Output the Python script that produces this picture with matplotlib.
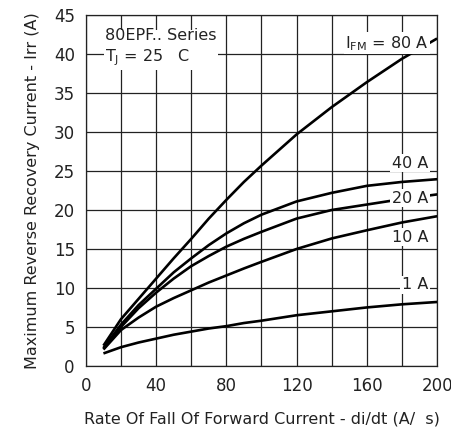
import matplotlib
matplotlib.use('Agg')
import matplotlib.pyplot as plt

# Dados das curvas
didt = [10, 20, 30, 40, 50, 60, 70, 80, 90, 100, 120, 140, 160, 180, 200]
irr_80a = [2.6, 6.0, 8.6, 11.2, 13.8, 16.3, 18.9, 21.3, 23.6, 25.7, 29.7, 33.2, 36.4, 39.4, 42.0]
irr_40a = [2.3, 5.3, 7.8, 9.9, 12.0, 13.8, 15.5, 17.0, 18.3, 19.4, 21.1, 22.2, 23.1, 23.6, 23.95]
irr_20a = [2.2, 5.0, 7.4, 9.4, 11.2, 12.8, 14.1, 15.3, 16.3, 17.2, 18.9, 20.0, 20.7, 21.4, 22.0]
irr_10a = [2.1, 4.6, 6.2, 7.6, 8.7, 9.7, 10.7, 11.6, 12.5, 13.35, 15.0, 16.35, 17.4, 18.4, 19.2]
irr_1a = [1.6, 2.4, 3.0, 3.5, 4.0, 4.4, 4.8, 5.1, 5.5, 5.8, 6.5, 7.0, 7.5, 7.9, 8.2]

curvas = [irr_80a, irr_40a, irr_20a, irr_10a, irr_1a]
rotulos = ['I$_{\\mathregular{FM}}$ = 80 A', '40 A', '20 A', '10 A', '1 A']
pos_rotulos = [(195, 41.4), (195, 26.0), (195, 21.5), (195, 16.5), (195, 10.4)]

plt.rcParams['font.family'] = ['DejaVu Sans']
cor_texto = '#222222'

fig = plt.figure(figsize=(4.52, 4.32), dpi=100)
ax = fig.add_axes([0.190, 0.153, 0.777, 0.812])

for y in curvas:
    ax.plot(didt, y, color='black', linewidth=1.9, zorder=3, solid_capstyle='butt')

for txt, (x, y) in zip(rotulos, pos_rotulos):
    ax.text(x, y, txt, ha='right', va='center', fontsize=11.5, color=cor_texto,
            bbox=dict(facecolor='white', edgecolor='none', pad=1.0), zorder=4)

ax.text(11, 40.8, '80EPF.. Series\nT$_{\\mathregular{J}}$ = 25   C', ha='left', va='center',
        fontsize=11.5, linespacing=1.35, color=cor_texto,
        bbox=dict(facecolor='white', edgecolor='none', pad=1.0), zorder=4)

ax.set_xlim(0, 200)
ax.set_ylim(0, 45)
ax.set_xticks(range(0, 201, 40))
ax.set_xticks(range(0, 201, 20), minor=True)
ax.set_yticks(range(0, 46, 5))
ax.grid(True, which='both', color='#222222', linewidth=0.9)
ax.tick_params(which='both', length=0, labelsize=12, pad=8, labelcolor=cor_texto)
for s in ax.spines.values():
    s.set_linewidth(0.9)
    s.set_color('#222222')

ax.set_xlabel('Rate Of Fall Of Forward Current - di/dt (A/  s)', fontsize=11.5,
              labelpad=12, color=cor_texto)
ax.set_ylabel('Maximum Reverse Recovery Current - Irr (A)', fontsize=11.5,
              labelpad=10, color=cor_texto)

fig.savefig('out.png', dpi=100)
